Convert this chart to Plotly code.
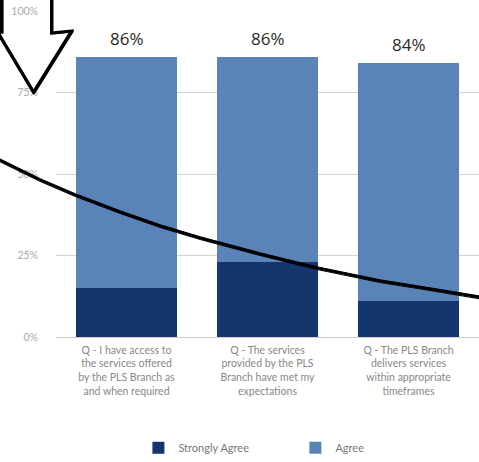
import plotly.graph_objects as go

# Survey results per question
questions = [
    "Q - I have access to<br>the services offered<br>by the PLS Branch as<br>and when required",
    "Q - The services<br>provided by the PLS<br>Branch have met my<br>expectations",
    "Q - The PLS Branch<br>delivers services<br>within appropriate<br>timeframes",
]
strongly_agree = [0.15, 0.23, 0.11]
agree = [0.71, 0.63, 0.73]
y_ticks = [0, 0.25, 0.5, 0.75, 1.0]
y_tick_labels = ["0%", "25%", "50%", "75%", "100%"]

SA_COLOR = "#15366c"
AG_COLOR = "#5a84b8"

W, H = 479, 462
ML, MR, MT, MB = 55.5, 0, 11, 125
PW, PH = W - ML - MR, H - MT - MB


def px(x, y):
    """Convert page pixel position to paper coordinates."""
    return (x - ML) / PW, (H - MB - y) / PH


def path_from(points, close=False):
    parts = []
    for i, (x, y) in enumerate(points):
        u, v = px(x, y)
        parts.append(("M" if i == 0 else "L") + f"{u:.4f},{v:.4f}")
    return " ".join(parts) + (" Z" if close else "")


fig = go.Figure()
fig.add_trace(go.Bar(x=questions, y=strongly_agree, name="Strongly Agree",
                     marker=dict(color=SA_COLOR, line=dict(width=0))))
fig.add_trace(go.Bar(x=questions, y=agree, name="Agree",
                     marker=dict(color=AG_COLOR, line=dict(width=0))))

# Total labels above each stack
for q, s, a in zip(questions, strongly_agree, agree):
    total = s + a
    fig.add_annotation(x=q, y=total, text=f"{round(total * 100)}%", showarrow=False,
                       yanchor="bottom", yshift=5,
                       font=dict(family="Open Sans", size=17, color="#2a2a2a"))

shapes = []
# Hand-drawn down arrow (outline drawn a few times for a sketchy stroke)
arrow = [(1, -5), (1, 32), (-3, 32), (33, 92), (71, 31), (51, 33), (51, -5)]
shapes.append(dict(type="path", xref="paper", yref="paper", path=path_from(arrow),
                   line=dict(color="black", width=3), fillcolor="rgba(0,0,0,0)",
                   layer="above"))
for dx, dy, w in [(1.3, 0.8, 1.4), (-0.9, 0.6, 1.2)]:
    pts = [(x + dx, y + dy) for x, y in arrow]
    shapes.append(dict(type="path", xref="paper", yref="paper", path=path_from(pts),
                       line=dict(color="black", width=w), layer="above"))

# Hand-drawn sweeping curve
curve = [(-5, 158), (40, 180), (75, 195), (120, 212), (160, 226), (200, 238),
         (260, 254), (317, 268), (380, 281), (430, 289), (485, 298)]
for dy, w in [(0, 2.4), (1.5, 1.2), (-1.2, 1.0)]:
    pts = [(x, y + dy) for x, y in curve]
    shapes.append(dict(type="path", xref="paper", yref="paper", path=path_from(pts),
                       line=dict(color="black", width=w), layer="above"))

lx, _ = px(138, 0)

fig.update_layout(
    width=W, height=H,
    margin=dict(l=ML, r=MR, t=MT, b=MB, autoexpand=False),
    barmode="stack", bargap=0.29,
    plot_bgcolor="white", paper_bgcolor="white",
    font=dict(family="Lato", color="#888888"),
    shapes=shapes,
    showlegend=True,
    legend=dict(orientation="h", x=lx, xanchor="left", y=-0.34, yanchor="middle",
                font=dict(family="Lato", size=11, color="#777777"),
                traceorder="normal", entrywidth=112, itemwidth=30),
    yaxis=dict(range=[0, 1], tickvals=y_ticks, ticktext=y_tick_labels,
               showgrid=True, gridcolor="#d4d4d4", gridwidth=1,
               zeroline=False, showline=False,
               tickfont=dict(family="Lato", size=10.5, color="#aaaaaa"),
               ticks="", ticklabelstandoff=17),
    xaxis=dict(showline=True, linecolor="#cccccc", linewidth=1, ticks="",
               tickfont=dict(family="Lato", size=10.5, color="#888888"),
               tickangle=0, automargin=False, ticklabelstandoff=3),
)

fig.write_html("out.html")
